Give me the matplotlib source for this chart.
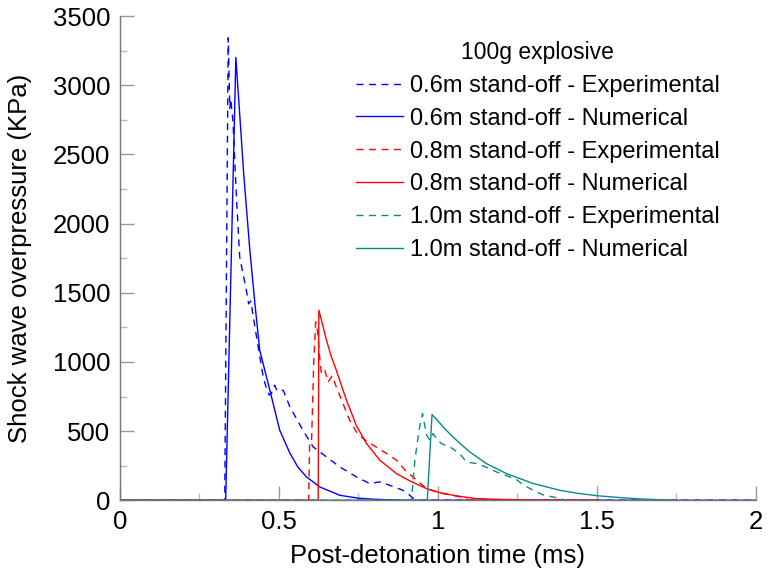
import matplotlib
matplotlib.use("Agg")
import matplotlib.pyplot as plt

# values (time in ms, pressure in kPa)
t_exp_06 = [0.0, 0.330, 0.341, 0.346, 0.349, 0.356, 0.367, 0.377, 0.398, 0.405, 0.412,
            0.430, 0.451, 0.461, 0.470, 0.477, 0.487, 0.495, 0.514, 0.535, 0.576, 0.608,
            0.650, 0.692, 0.744, 0.786, 0.818, 0.849, 0.891, 0.912, 0.930, 2.0]
p_exp_06 = [0, 0, 3343, 2834, 2900, 2735, 2183, 1760, 1518, 1420, 1440,
            1181, 891, 810, 760, 774, 832, 790, 795, 675, 506, 386,
            313, 241, 169, 121, 133, 108, 72, 36, 0, 0]

t_num_06 = [0.0, 0.333, 0.365, 0.390, 0.409, 0.425, 0.440, 0.472, 0.503, 0.535, 0.560,
            0.587, 0.629, 0.692, 0.750, 0.800, 0.900, 2.0]
p_num_06 = [0, 0, 3201, 2350, 1808, 1420, 1085, 795, 506, 340, 240,
            169, 96, 36, 15, 7, 0, 0]

t_exp_08 = [0.0, 0.594, 0.597, 0.603, 0.610, 0.616, 0.622, 0.628, 0.634, 0.645, 0.655,
            0.668, 0.681, 0.702, 0.723, 0.744, 0.765, 0.797, 0.839, 0.870, 0.902,
            0.922, 0.964, 0.996, 1.040, 1.069, 1.100, 1.500]
p_exp_08 = [0, 0, 410, 420, 1000, 1289, 1220, 1050, 916, 940, 855,
            900, 819, 699, 578, 494, 446, 398, 338, 289, 205,
            169, 85, 60, 40, 24, 0, 0]

t_num_08 = [0.0, 0.624, 0.626, 0.640, 0.650, 0.665, 0.681, 0.697, 0.713, 0.744, 0.776,
            0.818, 0.870, 0.912, 0.964, 1.017, 1.070, 1.120, 1.200, 1.300, 1.500]
p_num_08 = [0, 0, 1374, 1250, 1157, 1040, 940, 830, 723, 540, 410,
            289, 193, 140, 85, 48, 28, 12, 6, 2, 0]

t_exp_10 = [0.0, 0.917, 0.928, 0.941, 0.952, 0.965, 0.975, 0.985, 0.998, 1.011, 1.038,
            1.069, 1.090, 1.122, 1.164, 1.184, 1.226, 1.247, 1.270, 1.300, 1.330,
            1.370, 1.405]
p_exp_10 = [0, 0, 289, 506, 627, 470, 434, 482, 440, 410, 386,
            337, 277, 265, 229, 205, 169, 150, 110, 72, 40,
            20, 0]

t_num_10 = [0.0, 0.967, 0.982, 1.000, 1.017, 1.038, 1.059, 1.080, 1.101, 1.153, 1.216,
            1.300, 1.384, 1.440, 1.500, 1.580, 1.650, 1.750]
p_num_10 = [0, 0, 620, 575, 530, 480, 434, 390, 349, 265, 193,
            121, 72, 50, 33, 18, 8, 0]

labels = ["0.6m stand-off - Experimental", "0.6m stand-off - Numerical",
          "0.8m stand-off - Experimental", "0.8m stand-off - Numerical",
          "1.0m stand-off - Experimental", "1.0m stand-off - Numerical"]

plt.rcParams['font.family'] = ['Liberation Sans', 'DejaVu Sans']

fig = plt.figure(figsize=(7.68, 5.75), dpi=100)
ax = fig.add_axes([0.156, 0.130, 0.828, 0.842])

blue = '#0000ff'
red = '#ff0000'
teal = '#0a8a84'
dash = (5, 4)
lw = 1.0

ax.plot(t_exp_06, p_exp_06, color=blue, lw=lw, dashes=dash, label=labels[0])
ax.plot(t_num_06, p_num_06, color=blue, lw=lw, label=labels[1])
ax.plot(t_exp_08, p_exp_08, color=red, lw=lw, dashes=dash, label=labels[2])
ax.plot(t_num_08, p_num_08, color=red, lw=lw, label=labels[3])
ax.plot(t_exp_10, p_exp_10, color=teal, lw=lw, dashes=dash, label=labels[4])
ax.plot(t_num_10, p_num_10, color=teal, lw=lw, label=labels[5])

ax.set_xlim(0, 2)
ax.set_ylim(0, 3500)
ax.set_xticks([0, 0.5, 1, 1.5, 2])
ax.set_xticklabels(['0', '0.5', '1', '1.5', '2'])
ax.set_xticks([0.25, 0.75, 1.25, 1.75], minor=True)
ax.set_yticks(range(0, 3501, 500))
ax.set_yticks(range(250, 3500, 500), minor=True)

for s in ['top', 'right']:
    ax.spines[s].set_visible(False)
for s in ['left', 'bottom']:
    ax.spines[s].set_color('#777777')
    ax.spines[s].set_linewidth(1.0)

ax.tick_params(which='major', direction='in', length=10, width=1.0, color='#999999',
               labelsize=18.5, pad=7)
ax.tick_params(which='minor', direction='in', length=5, width=1.0, color='#bbbbbb')

ax.set_xlabel('Post-detonation time (ms)', fontsize=18.5, labelpad=7)
ax.set_ylabel('Shock wave overpressure (KPa)', fontsize=18.5, labelpad=15)

leg = ax.legend(loc='upper right', bbox_to_anchor=(0.966, 0.978), frameon=False,
                fontsize=17, title='100g explosive', title_fontsize=16.5,
                handlelength=2.0, handletextpad=0.3, labelspacing=0.46,
                borderaxespad=0.2)

fig.savefig('out.png', dpi=100)
